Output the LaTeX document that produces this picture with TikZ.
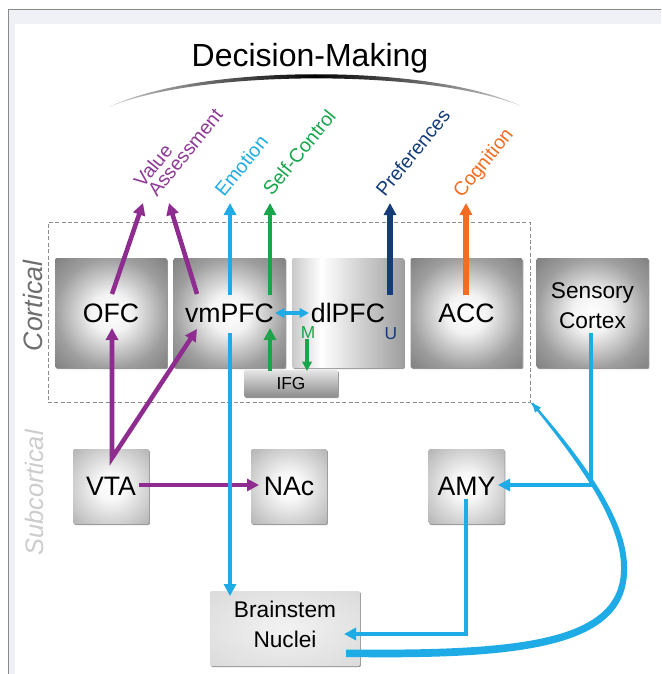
\documentclass[tikz,border=0pt]{standalone}
\usepackage{fontspec}
\setmainfont{Liberation Sans}
\usetikzlibrary{arrows.meta,shadows}

\definecolor{vpurple}{HTML}{8E2C8F}
\definecolor{vcyan}{HTML}{1FACE6}
\definecolor{vgreen}{HTML}{18A54B}
\definecolor{vnavy}{HTML}{143C78}
\definecolor{vorange}{HTML}{F36C21}
\definecolor{lpurple}{HTML}{8E3A96}
\definecolor{framebg}{HTML}{F0F1F6}
\definecolor{frameline}{HTML}{8A8A8A}
\definecolor{dashgray}{HTML}{8C8C8C}

\pgfdeclareradialshading{cortrad}{\pgfpointorigin}{color(0bp)=(white); color(9bp)=(black!5); color(25bp)=(black!38); color(50bp)=(black!66)}
\pgfdeclareradialshading{subrad}{\pgfpointorigin}{color(0bp)=(white); color(9bp)=(black!3); color(28bp)=(black!22); color(50bp)=(black!45)}
\pgfdeclareradialshading{brrad}{\pgfpointorigin}{color(0bp)=(black!5); color(50bp)=(black!18)}
\pgfdeclarehorizontalshading{cylshade}{100bp}{color(0bp)=(black!68); color(12bp)=(black!42); color(38bp)=(white); color(72bp)=(black!35); color(100bp)=(black!62)}

\tikzset{
  every node/.style={inner sep=0pt},
  boxshadow/.style={drop shadow={shadow xshift=0.7pt, shadow yshift=-0.8pt, opacity=0.5, fill=black!80}},
  cbox/.style={rectangle, rounded corners=1.5pt, minimum width=84pt, minimum height=82.5pt,
    shading=cortrad, boxshadow, font=\fontsize{20}{24}\selectfont},
  sbox/.style={rectangle, rounded corners=1.5pt, minimum width=57pt, minimum height=56.25pt,
    shading=subrad, boxshadow, font=\fontsize{20}{24}\selectfont},
  twoline/.style={align=center, font=\fontsize{17}{22.5}\selectfont},
  arr/.style={line width=3.4pt, -{Triangle[length=9pt,width=9pt]}},
  thinarr/.style={line width=2.4pt, -{Triangle[length=7pt,width=7pt]}},
  lbl/.style={rotate=51, anchor=base west, font=\fontsize{14.6}{18}\selectfont},
}

\begin{document}
\begin{tikzpicture}[x=0.75pt, y=-0.75pt]
\useasboundingbox (0,0) rectangle (661,674);
% frame
\fill[white] (0,0) rectangle (661,674);
\fill[framebg] (8,9.5) rectangle (661,674);
\fill[white] (15,24) rectangle (661,674);
\draw[frameline, line width=0.75pt] (8,674) -- (8,9.5) -- (661,9.5);

% title and arc
\node[anchor=base, font=\fontsize{24}{28}\selectfont] (title) at (310,67) {Decision-Making};
\shade[left color=black!20, right color=black!20, middle color=black]
  (109,107) .. controls (200,63.5) and (430,63.5) .. (521,106)
  .. controls (430,69) and (200,69) .. (109,107) -- cycle;

% side labels
\node[rotate=90, font=\itshape\fontsize{20}{24}\selectfont, text=black!57] (cortlbl) at (33,306) {Cortical};
\node[rotate=90, font=\itshape\fontsize{19}{23}\selectfont, text=black!20] (subcortlbl) at (34,493) {Subcortical};

% cortical dashed region
\node[draw=dashgray, line width=0.75pt, dash pattern=on 3pt off 1.8pt, minimum width=361.5pt, minimum height=135pt] (cort) at (289,312) {};

% cortical boxes
\node[cbox] (ofc) at (111,313) {OFC};
\node[cbox] (vm) at (229.5,313) {vmPFC};
\node[cbox, shading=cylshade] (dl) at (348,313) {dlPFC};
\node[cbox] (acc) at (466.5,313) {ACC};
\node[cbox] (sens) at (592.5,313) {};
\node[twoline] (senstxt) at (592.5,306) {Sensory\\Cortex};
\node[rectangle, rounded corners=1pt, minimum width=70.5pt, minimum height=20.25pt, top color=black!10, bottom color=black!45, boxshadow, font=\fontsize{13}{15}\selectfont] (ifg) at (291,383.5) {IFG};
\node[font=\fontsize{13}{15}\selectfont, text=vgreen] (mlbl) at (308,333) {M};
\node[font=\fontsize{13}{15}\selectfont, text=vnavy] (ulbl) at (391,334) {U};

% subcortical boxes
\node[sbox] (vta) at (111,486.5) {VTA};
\node[sbox] (nac) at (289,486.5) {NAc};
\node[sbox] (amy) at (466.5,486.5) {AMY};
\node[rectangle, rounded corners=1pt, minimum width=112.5pt, minimum height=56.25pt, shading=brrad, boxshadow] (bs) at (285,628.5) {};
\node[twoline] (bstxt) at (285,624.5) {Brainstem\\Nuclei};

% function labels
\node[lbl, text=lpurple] (lval) at (143,189) {Value};
\node[lbl, text=lpurple] (lass) at (157,198) {Assessment};
\node[lbl, text=vcyan] (lemo) at (224,198) {Emotion};
\node[lbl, text=vgreen] (lself) at (272,197) {Self-Control};
\node[lbl, text=vnavy] (lpref) at (385,198) {Preferences};
\node[lbl, text=vorange] (lcog) at (462,199) {Cognition};

% coordinates
\coordinate (tVal) at (143,203);
\coordinate (tAss) at (169,203);
\coordinate (tEmo) at (230,203);
\coordinate (tSelf) at (270,203);
\coordinate (tPref) at (390,203);
\coordinate (tCog) at (466,203);
\coordinate (ofcUp) at (112,294);
\coordinate (vmUpA) at (197,294);
\coordinate (vmUpE) at (230,295);
\coordinate (vmDownE) at (230,333);
\coordinate (bsIn) at (230,596);
\coordinate (vmUpS) at (270,295);
\coordinate (vmIfgIn) at (270,328);
\coordinate (ifgTop) at (270,371);
\coordinate (dlM) at (307,339);
\coordinate (ifgTopM) at (307,371);
\coordinate (vmR) at (275,313);
\coordinate (dlL) at (309,313);
\coordinate (dlUp) at (390,295);
\coordinate (accUp) at (466,295);
\coordinate (ofcIn) at (112,328);
\coordinate (vmIn) at (197,329);
\coordinate (vtaTop) at (112,458);
\coordinate (vtaR) at (139,485);
\coordinate (nacL) at (259,485);
\coordinate (senDown) at (591,333);
\coordinate (senJ) at (591,485);
\coordinate (amyR) at (498,485);
\coordinate (amyDown) at (466,499);
\coordinate (amyJ) at (466,634);
\coordinate (bsR) at (344,634);
\coordinate (curveA) at (540,412.5);
\coordinate (curveTip) at (532,403);

% purple connectors
\draw[arr, vpurple] (ofcUp) -- (tVal);
\draw[arr, vpurple] (vmUpA) -- (tAss);
\draw[line width=3.4pt, vpurple, line join=miter, {Triangle[length=9pt,width=9pt]}-{Triangle[length=9pt,width=9pt]}] (ofcIn) -- (vtaTop) -- (vmIn);
\draw[arr, vpurple] (vtaR) -- (nacL);

% cyan connectors
\draw[arr, vcyan] (vmUpE) -- (tEmo);
\draw[arr, vcyan] (vmDownE) -- (bsIn);
\draw[thinarr, vcyan, {Triangle[length=7pt,width=7pt]}-{Triangle[length=7pt,width=7pt]}] (vmR) -- (dlL);
\draw[line width=3.6pt, vcyan, line join=miter, -{Triangle[length=9pt,width=9pt]}] (senDown) -- (senJ) -- (amyR);
\draw[line width=3.6pt, vcyan, line join=miter, -{Triangle[length=9pt,width=9pt]}] (amyDown) -- (amyJ) -- (bsR);
% tapered curve from brainstem to cortical region
\fill[vcyan] (346,657) .. controls (522,659.5) and (629.5,648) .. (627,567)
  .. controls (627,519) and (582,459) .. (533,402.5)
  -- (531,403.5) .. controls (578,461) and (621,521) .. (621,567)
  .. controls (622.5,642) and (518,651) .. (346,649.5) -- cycle;
\draw[vcyan, line width=1.1pt, -{Triangle[length=7pt,width=5.5pt]}] (curveA) -- (curveTip);

% green connectors
\draw[arr, vgreen] (vmUpS) -- (tSelf);
\draw[arr, vgreen] (ifgTop) -- (vmIfgIn);
\draw[thinarr, vgreen] (dlM) -- (ifgTopM);

% navy and orange
\draw[line width=3.8pt, vnavy, -{Triangle[length=9pt,width=9pt]}] (dlUp) -- (tPref);
\draw[line width=3.8pt, vorange, -{Triangle[length=9pt,width=9pt]}] (accUp) -- (tCog);
\end{tikzpicture}
\end{document}
